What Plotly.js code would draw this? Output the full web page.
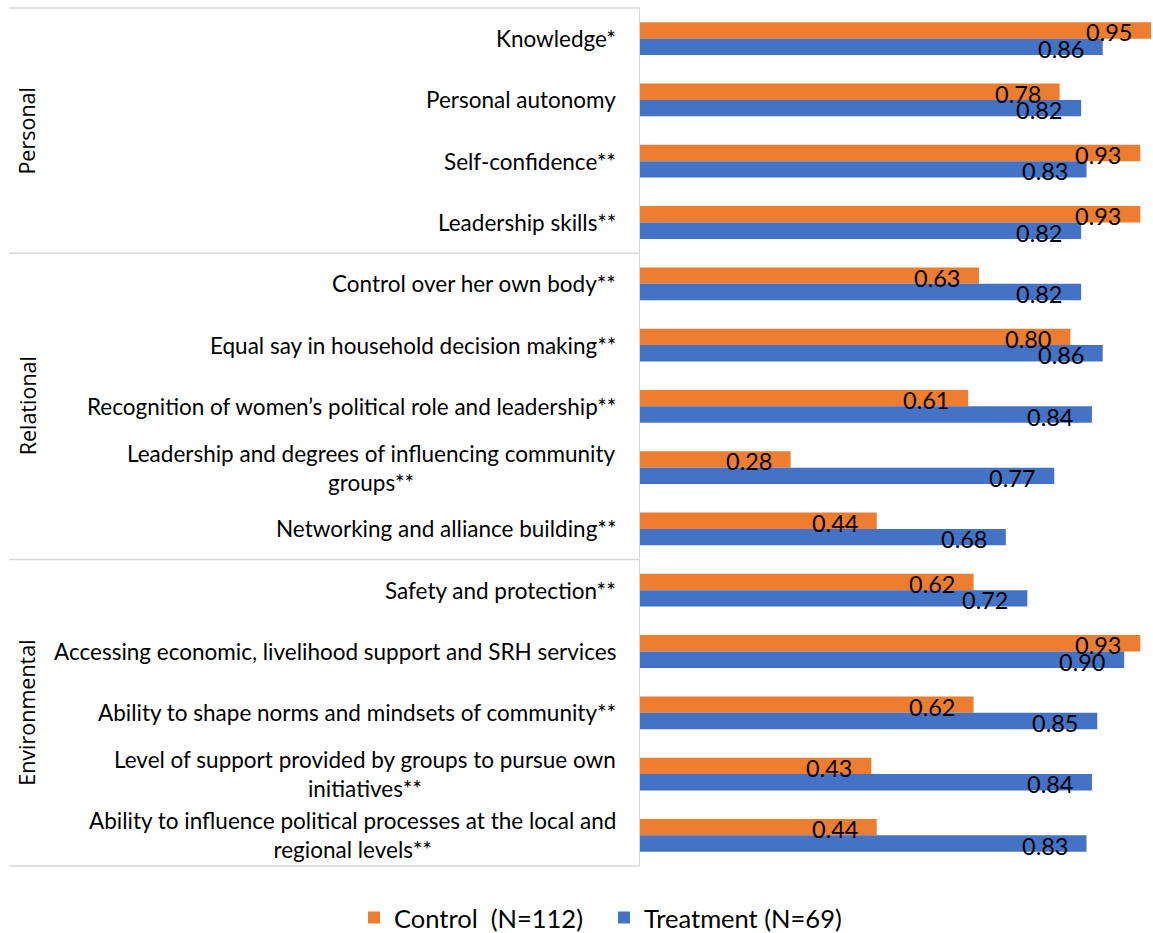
<!DOCTYPE html>
<html>
<head>
<meta charset="utf-8">
<script src="https://cdn.plot.ly/plotly-3.0.1.min.js"></script>
<style>html,body{margin:0;padding:0;background:#fff;}#chart{width:1153px;height:933px;}</style>
</head>
<body>
<div id="chart"></div>
<script>
const categories = [
  "Knowledge*",
  "Personal autonomy",
  "Self-confidence**",
  "Leadership skills**",
  "Control over her own body**",
  "Equal say in household decision making**",
  "Recognition of women\u2019s political role and leadership**",
  "Leadership and degrees of influencing community<br>groups**",
  "Networking and alliance building**",
  "Safety and protection**",
  "Accessing economic, livelihood support and SRH services",
  "Ability to shape norms and mindsets of community**",
  "Level of support provided by groups to pursue own<br>initiatives**",
  "Ability to influence political processes at the local and<br>regional levels**"
];
const groups = ["Personal", "Relational", "Environmental"];
const groupSizes = [4, 5, 5];
const controlValues = [0.95, 0.78, 0.93, 0.93, 0.63, 0.80, 0.61, 0.28, 0.44, 0.62, 0.93, 0.62, 0.43, 0.44];
const treatmentValues = [0.86, 0.82, 0.83, 0.82, 0.82, 0.86, 0.84, 0.77, 0.68, 0.72, 0.90, 0.85, 0.84, 0.83];
const seriesNames = ["Control\u00a0 (N=112)", "Treatment (N=69)"];
const seriesColors = ["#ED7D31", "#4472C4"];

const W = 1153, H = 933;
const margin = {l: 640, r: 0, t: 8, b: 67, autoexpand: false};
const plotW = W - margin.l - margin.r;
const plotH = H - margin.t - margin.b;
const N = categories.length;
const bargap = 0.465;
const barPx = (plotH / N) * (1 - bargap) / 2;

const traces = [controlValues, treatmentValues].map((vals, i) => ({
  type: 'bar',
  orientation: 'h',
  name: seriesNames[i],
  x: vals,
  y: categories,
  marker: {color: seriesColors[i]},
  hoverinfo: 'x+y'
}));

const annotations = [];
// category labels
categories.forEach((c) => {
  annotations.push({
    xref: 'paper', yref: 'y', x: 0, y: c,
    xanchor: 'right', yanchor: 'middle', xshift: -22,
    text: c, showarrow: false, align: 'center',
    font: {family: 'Lato, sans-serif', size: 22.5, color: '#000'}
  });
});
// value labels
[controlValues, treatmentValues].forEach((vals, s) => {
  vals.forEach((v, k) => {
    annotations.push({
      xref: 'x', yref: 'y', x: v, y: categories[k],
      xanchor: 'right', yanchor: 'middle', xshift: -17,
      yshift: (s === 0 ? barPx / 2 : -barPx / 2) - 2,
      text: v.toFixed(2), showarrow: false,
      font: {family: 'Lato, sans-serif', size: 23.5, color: '#000'}
    });
  });
});
// group labels + separators
const shapes = [];
let cum = 0;
shapes.push({type: 'line', xref: 'paper', yref: 'paper', x0: (9 - margin.l) / plotW, x1: 0, y0: 1, y1: 1,
  line: {color: '#d9d9d9', width: 1.5}});
groups.forEach((g, i) => {
  const start = cum;
  cum += groupSizes[i];
  annotations.push({
    xref: 'paper', yref: 'y', x: 0, xshift: -(margin.l - 27), y: (start + cum - 1) / 2,
    xanchor: 'center', yanchor: 'middle', textangle: -90,
    text: g, showarrow: false,
    font: {family: 'Open Sans, sans-serif', size: 21.5, color: '#000'}
  });
  shapes.push({type: 'line', xref: 'paper', yref: 'paper', x0: (9 - margin.l) / plotW, x1: 0,
    y0: 1 - cum / N, y1: 1 - cum / N, line: {color: '#d9d9d9', width: 1.5}});
});

const layout = {
  width: W, height: H,
  margin: margin,
  paper_bgcolor: '#fff', plot_bgcolor: '#fff',
  barmode: 'group',
  bargap: bargap, bargroupgap: 0,
  font: {family: 'Lato, sans-serif', color: '#000'},
  xaxis: {range: [0, (W - margin.l - margin.r) / 538], visible: false, fixedrange: true},
  yaxis: {type: 'category', autorange: 'reversed', showticklabels: false, ticks: '',
    showgrid: false, zeroline: false, showline: true, linecolor: '#d9d9d9', linewidth: 1.5},
  showlegend: true,
  legend: {orientation: 'h', x: (354 - margin.l) / plotW, xanchor: 'left',
    y: -(918 - (H - margin.b)) / plotH, yanchor: 'middle', entrywidth: 205,
    font: {family: 'Lato, sans-serif', size: 25.5, color: '#000'}, traceorder: 'normal'},
  annotations: annotations,
  shapes: shapes
};

Plotly.newPlot('chart', traces, layout, {displayModeBar: false, staticPlot: true});
</script>
</body>
</html>
